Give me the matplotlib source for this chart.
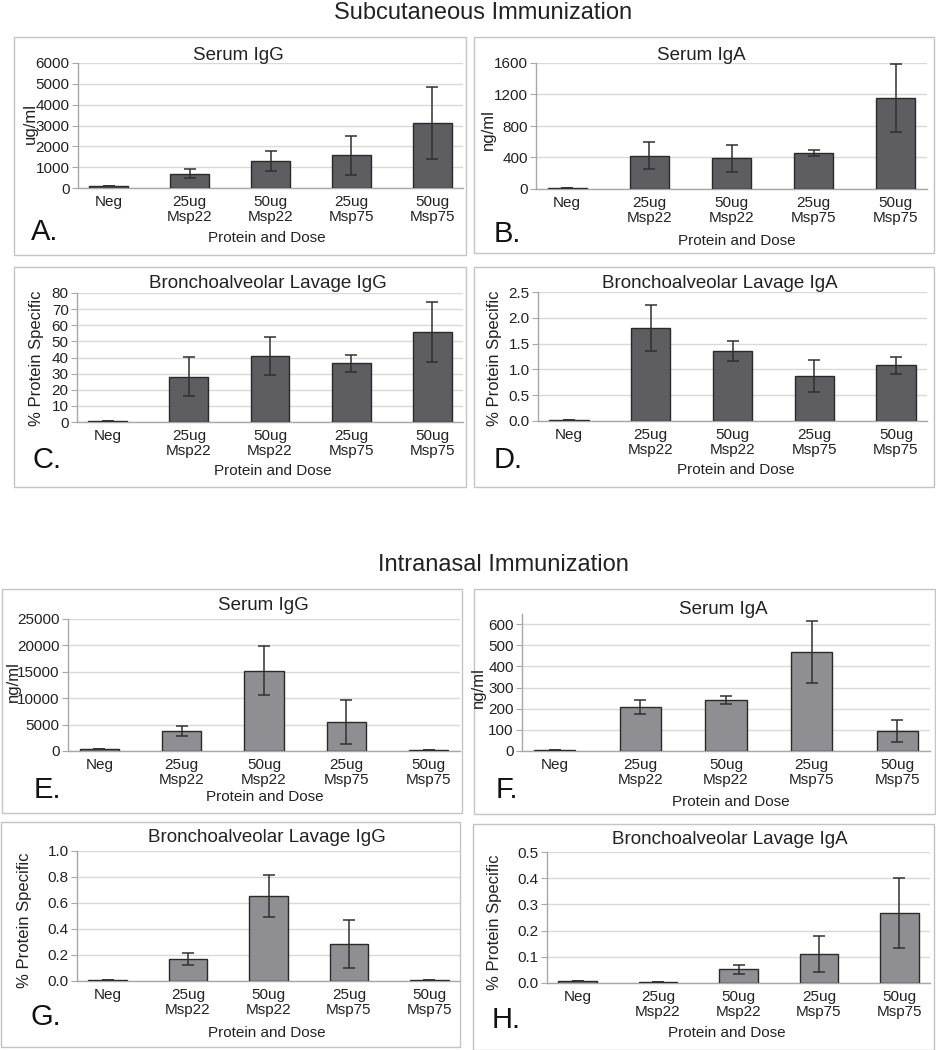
import matplotlib
matplotlib.use("Agg")
import matplotlib.pyplot as plt
from matplotlib.patches import Rectangle
from matplotlib.ticker import FormatStrFormatter

plt.rcParams['font.family'] = ['Liberation Sans', 'DejaVu Sans']

# ---------------- data ----------------
categories = ["Neg", "25ug\nMsp22", "50ug\nMsp22", "25ug\nMsp75", "50ug\nMsp75"]

sc_serum_igg = [100, 690, 1280, 1570, 3120]
sc_serum_igg_err = [0, 215, 480, 940, 1750]
sc_serum_iga = [17, 425, 392, 457, 1158]
sc_serum_iga_err = [0, 170, 172, 38, 430]
sc_bal_igg = [0.6, 28.1, 40.9, 36.4, 55.8]
sc_bal_igg_err = [0, 12.2, 12.0, 5.2, 18.8]
sc_bal_iga = [0.02, 1.80, 1.36, 0.87, 1.08]
sc_bal_iga_err = [0, 0.44, 0.20, 0.31, 0.16]

in_serum_igg = [300, 3800, 15190, 5500, 150]
in_serum_igg_err = [0, 890, 4620, 4150, 0]
in_serum_iga = [5, 207, 241, 469, 96]
in_serum_iga_err = [0, 33, 21, 146, 52]
in_bal_igg = [0.008, 0.169, 0.654, 0.285, 0.008]
in_bal_igg_err = [0, 0.045, 0.164, 0.185, 0]
in_bal_iga = [0.008, 0.005, 0.052, 0.111, 0.267]
in_bal_iga_err = [0, 0, 0.016, 0.068, 0.135]

W, H = 936, 1050
fig = plt.figure(figsize=(W / 100, H / 100), dpi=100)
fig.patch.set_facecolor("white")

TXT = "#222222"
DARK = "#5e5e62"
LIGHT = "#8f8f93"


def fx(x):
    return x / W


def fy(y):
    return 1 - y / H


def box(x0, y0, x1, y1):
    fig.patches.append(Rectangle((fx(x0), fy(y1)), fx(x1) - fx(x0), fy(y0) - fy(y1),
                                 transform=fig.transFigure, fill=False,
                                 edgecolor="#c4c4c4", lw=1.0, zorder=0))


def panel(rect, vals, errs, color, ymax, ystep, fmt, title, tpos, ylabel, ypos,
          letter, lpos, xlpos, ytop=None, bbox=None):
    x0, x1, yt, yb = rect
    ax = fig.add_axes([fx(x0), fy(yb), fx(x1) - fx(x0), fy(yt) - fy(yb)])
    xs = list(range(len(categories)))
    ax.bar(xs, vals, width=0.48, color=color, edgecolor="#2a2a2a", lw=1.0, zorder=3)
    ax.errorbar(xs, vals, yerr=errs, fmt="none", ecolor="#303030", elinewidth=1.1,
                capsize=4.5, capthick=1.1, zorder=4)
    nt = int(round(ymax / ystep))
    ax.set_yticks([ystep * i for i in range(nt + 1)])
    ax.yaxis.set_major_formatter(FormatStrFormatter(fmt))
    ax.set_xlim(-0.38, 4.38)
    ax.set_ylim(0, ytop if ytop is not None else ymax)
    ax.yaxis.grid(True, color="#d9d9d9", lw=1.0, zorder=0)
    ax.set_axisbelow(True)
    for s in ["top", "right"]:
        ax.spines[s].set_visible(False)
    for s in ["left", "bottom"]:
        ax.spines[s].set_color("#a8a8a8")
        ax.spines[s].set_linewidth(1.0)
    ax.set_xticks(xs)
    ax.set_xticklabels(categories, fontsize=11, color=TXT, linespacing=1.1)
    ax.tick_params(axis="x", length=0, pad=5)
    ax.tick_params(axis="y", length=4, color="#a8a8a8", labelsize=11,
                   labelcolor=TXT, pad=2)
    fig.text(fx(tpos[0]), fy(tpos[1]), title, ha="center", va="center",
             fontsize=13.5, color=TXT)
    fig.text(fx(ypos[0]), fy(ypos[1]), ylabel, ha="center", va="center",
             rotation=90, fontsize=12, color=TXT)
    fig.text(fx(lpos[0]), fy(lpos[1]), letter, ha="left", va="baseline",
             fontsize=21, color="#111111")
    fig.text(fx(xlpos[0]), fy(xlpos[1]), "Protein and Dose", ha="center",
             va="center", fontsize=11, color=TXT)
    if bbox:
        box(*bbox)
    return ax


# titles
fig.text(fx(483), fy(13), "Subcutaneous Immunization", ha="center", va="center",
         fontsize=17, color=TXT)
fig.text(fx(503), fy(565), "Intranasal Immunization", ha="center", va="center",
         fontsize=17, color=TXT)

# A
panel((78, 463, 63, 188), sc_serum_igg, sc_serum_igg_err, DARK, 6000, 1000, "%d",
      "Serum IgG", (238, 56), "ug/ml", (30, 123), "A.", (31, 240), (267, 238),
      bbox=(14, 37, 466, 255))
# B
panel((536, 927, 63, 189), sc_serum_iga, sc_serum_iga_err, DARK, 1600, 400, "%d",
      "Serum IgA", (701, 56), "ng/ml", (488, 130), "B.", (494, 242), (737, 241),
      bbox=(474, 37, 934, 253))
# C
panel((77, 463, 293, 422), sc_bal_igg, sc_bal_igg_err, DARK, 80, 10, "%d",
      "Bronchoalveolar Lavage IgG", (268, 283), "% Protein Specific", (37, 358),
      "C.", (32, 468), (273, 471), bbox=(14, 267, 466, 487))
# D
panel((538, 927, 292, 421), sc_bal_iga, sc_bal_iga_err, DARK, 2.5, 0.5, "%.1f",
      "Bronchoalveolar Lavage IgA", (720, 283), "% Protein Specific", (495, 358),
      "D.", (494, 468), (736, 470), bbox=(474, 267, 934, 487))
# E
panel((68, 460, 619, 751), in_serum_igg, in_serum_igg_err, LIGHT, 25000, 5000, "%d",
      "Serum IgG", (263, 606), "ng/ml", (13, 682), "E.", (34, 798), (265, 797),
      bbox=(2, 589, 462, 813))
# F
panel((522, 930, 614, 751), in_serum_iga, in_serum_iga_err, LIGHT, 600, 100, "%d",
      "Serum IgA", (723, 610), "ng/ml", (478, 688), "F.", (496, 798), (731, 802),
      ytop=648, bbox=(474, 589, 935, 814))
# G
panel((77, 460, 851, 981), in_bal_igg, in_bal_igg_err, LIGHT, 1.0, 0.2, "%.1f",
      "Bronchoalveolar Lavage IgG", (267, 838), "% Protein Specific", (25, 920),
      "G.", (31, 1025), (267, 1033), bbox=(0.5, 822, 460, 1047))
# H
panel((547, 930, 852, 983), in_bal_iga, in_bal_iga_err, LIGHT, 0.5, 0.1, "%.1f",
      "Bronchoalveolar Lavage IgA", (730, 839), "% Protein Specific", (494, 922),
      "H.", (492, 1028), (727, 1033), bbox=(473, 824, 934, 1049.5))

fig.savefig("out.png", dpi=100, facecolor="white")
